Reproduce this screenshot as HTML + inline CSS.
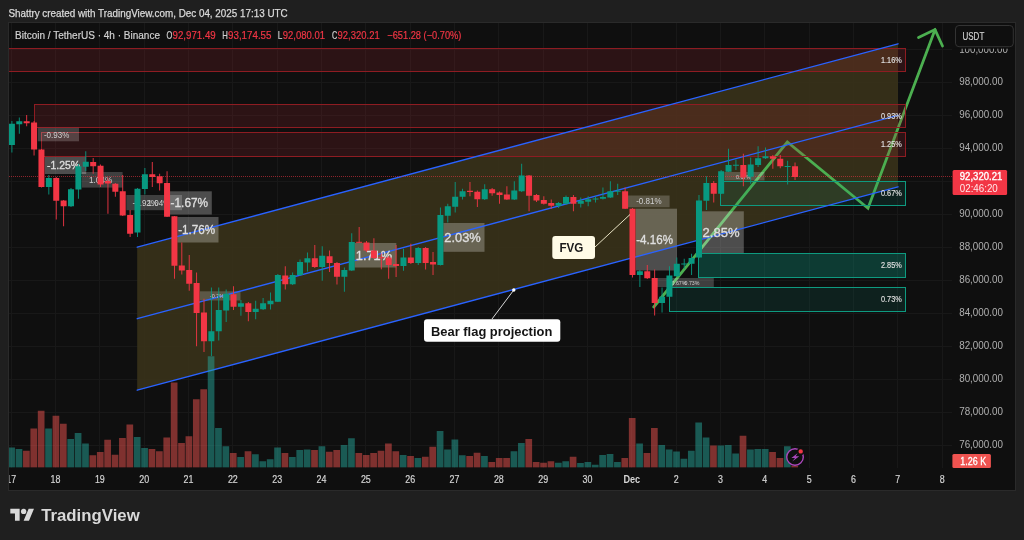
<!DOCTYPE html>
<html lang="en"><head><meta charset="utf-8"><title>BTCUSDT 4h chart</title>
<style>
html,body{margin:0;padding:0;background:#1f1f1f;}
body{width:1024px;height:540px;overflow:hidden;position:relative;font-family:"Liberation Sans",sans-serif;}
svg{position:absolute;left:0;top:0;display:block;will-change:transform;-webkit-font-smoothing:antialiased}
text{font-family:"Liberation Sans",sans-serif;}
</style></head><body>
<svg width="1024" height="540" viewBox="0 0 1024 540">
<rect x="0" y="0" width="1024" height="540" fill="#1f1f1f"/>
<rect x="8.5" y="22.5" width="1007" height="468" fill="#0f0f0f" stroke="#2a2a2a" stroke-width="1"/>

<defs><clipPath id="plot"><rect x="9" y="23" width="943" height="444.5"/></clipPath><clipPath id="pane"><rect x="9" y="23" width="1006" height="467"/></clipPath></defs>
<g stroke="#181818" stroke-width="1" shape-rendering="crispEdges">
<line x1="11.5" y1="23" x2="11.5" y2="467.5"/>
<line x1="55.5" y1="23" x2="55.5" y2="467.5"/>
<line x1="99.5" y1="23" x2="99.5" y2="467.5"/>
<line x1="144.5" y1="23" x2="144.5" y2="467.5"/>
<line x1="188.5" y1="23" x2="188.5" y2="467.5"/>
<line x1="232.5" y1="23" x2="232.5" y2="467.5"/>
<line x1="277.5" y1="23" x2="277.5" y2="467.5"/>
<line x1="321.5" y1="23" x2="321.5" y2="467.5"/>
<line x1="365.5" y1="23" x2="365.5" y2="467.5"/>
<line x1="410.5" y1="23" x2="410.5" y2="467.5"/>
<line x1="454.5" y1="23" x2="454.5" y2="467.5"/>
<line x1="498.5" y1="23" x2="498.5" y2="467.5"/>
<line x1="543.5" y1="23" x2="543.5" y2="467.5"/>
<line x1="587.5" y1="23" x2="587.5" y2="467.5"/>
<line x1="631.5" y1="23" x2="631.5" y2="467.5"/>
<line x1="676.5" y1="23" x2="676.5" y2="467.5"/>
<line x1="720.5" y1="23" x2="720.5" y2="467.5"/>
<line x1="764.5" y1="23" x2="764.5" y2="467.5"/>
<line x1="809.5" y1="23" x2="809.5" y2="467.5"/>
<line x1="853.5" y1="23" x2="853.5" y2="467.5"/>
<line x1="897.5" y1="23" x2="897.5" y2="467.5"/>
<line x1="942.5" y1="23" x2="942.5" y2="467.5"/>
<line x1="9" y1="49.5" x2="952" y2="49.5"/>
<line x1="9" y1="82.5" x2="952" y2="82.5"/>
<line x1="9" y1="115.5" x2="952" y2="115.5"/>
<line x1="9" y1="148.5" x2="952" y2="148.5"/>
<line x1="9" y1="181.5" x2="952" y2="181.5"/>
<line x1="9" y1="214.5" x2="952" y2="214.5"/>
<line x1="9" y1="247.5" x2="952" y2="247.5"/>
<line x1="9" y1="280.5" x2="952" y2="280.5"/>
<line x1="9" y1="313.5" x2="952" y2="313.5"/>
<line x1="9" y1="346.5" x2="952" y2="346.5"/>
<line x1="9" y1="379.5" x2="952" y2="379.5"/>
<line x1="9" y1="412.5" x2="952" y2="412.5"/>
<line x1="9" y1="445.5" x2="952" y2="445.5"/>
</g>
<g clip-path="url(#plot)">
<polygon points="137.2,247.2 898.0,43.8 898.0,186.8 137.2,390.2" fill="rgba(57,50,25,0.9)"/>
<polyline points="653.75,307 787.3,142 868,208.3 935,29.8" fill="none" stroke="#4caf50" stroke-width="2.8" stroke-linejoin="miter" stroke-linecap="round"/>
<polyline points="918.5,37.5 935,29.6 942.5,46" fill="none" stroke="#4caf50" stroke-width="2.8" stroke-linejoin="miter" stroke-linecap="round"/>
<rect x="5.00" y="48.50" width="900.50" height="23.00" fill="rgba(178,40,51,0.18)" stroke="#8e1c22" stroke-width="1"/>
<rect x="34.50" y="104.50" width="871.00" height="23.00" fill="rgba(178,40,51,0.18)" stroke="#8e1c22" stroke-width="1"/>
<rect x="41.50" y="132.50" width="864.00" height="24.00" fill="rgba(178,40,51,0.18)" stroke="#8e1c22" stroke-width="1"/>
<rect x="720.50" y="181.50" width="185.00" height="24.00" fill="rgba(8,153,129,0.13)" stroke="#0e9a80" stroke-width="1"/>
<rect x="698.50" y="253.50" width="207.00" height="24.00" fill="rgba(8,153,129,0.32)" stroke="#0e9a80" stroke-width="1"/>
<rect x="669.50" y="287.50" width="236.00" height="24.00" fill="rgba(8,153,129,0.13)" stroke="#0e9a80" stroke-width="1"/>
<rect x="37.80" y="127.80" width="41.20" height="13.50" fill="rgba(255,255,255,0.2)"/>
<rect x="81.90" y="172.00" width="40.70" height="15.60" fill="rgba(255,255,255,0.2)"/>
<rect x="126.30" y="195.00" width="55.70" height="15.20" fill="rgba(255,255,255,0.2)"/>
<rect x="200.00" y="291.30" width="40.50" height="9.20" fill="rgba(255,255,255,0.2)"/>
<rect x="627.80" y="195.50" width="41.80" height="11.80" fill="rgba(255,255,255,0.2)"/>
<rect x="657.00" y="278.00" width="56.80" height="9.00" fill="rgba(255,255,255,0.2)"/>
<rect x="724.50" y="172.00" width="40.00" height="8.50" fill="rgba(255,255,255,0.2)"/>
<rect x="44.80" y="157.00" width="41.40" height="17.00" fill="rgba(255,255,255,0.26)"/>
<rect x="169.30" y="191.30" width="42.50" height="23.20" fill="rgba(255,255,255,0.26)"/>
<rect x="177.30" y="217.00" width="41.20" height="25.50" fill="rgba(255,255,255,0.26)"/>
<rect x="354.50" y="243.00" width="41.80" height="24.50" fill="rgba(255,255,255,0.26)"/>
<rect x="443.30" y="223.00" width="41.20" height="28.80" fill="rgba(255,255,255,0.26)"/>
<rect x="635.70" y="208.70" width="41.30" height="61.80" fill="rgba(255,255,255,0.26)"/>
<rect x="701.80" y="211.30" width="42.00" height="41.70" fill="rgba(255,255,255,0.26)"/>
<g stroke="#2962ff" stroke-width="1.35" fill="none" stroke-linecap="round">
<line x1="137.2" y1="247.2" x2="898.0" y2="43.8"/>
<line x1="137.2" y1="318.7" x2="898.0" y2="115.3"/>
<line x1="137.2" y1="390.2" x2="898.0" y2="186.8"/>
</g>
<text x="43.90" y="137.70" font-size="8.6" fill="#d0d0d0" textLength="25.40" lengthAdjust="spacingAndGlyphs" >-0.93%</text>
<text x="88.90" y="182.70" font-size="8.7" fill="#d0d0d0" textLength="23.50" lengthAdjust="spacingAndGlyphs" >1.04%</text>
<text x="132.50" y="205.60" font-size="8.3" fill="#d0d0d0" textLength="25.50" lengthAdjust="spacingAndGlyphs" >-0.92%</text>
<text x="147.50" y="205.60" font-size="8.3" fill="#d0d0d0" textLength="23.00" lengthAdjust="spacingAndGlyphs" >1.04%</text>
<text x="210.00" y="298.20" font-size="6.2" fill="#d0d0d0" textLength="14.00" lengthAdjust="spacingAndGlyphs" >-0.7%</text>
<text x="636.20" y="204.40" font-size="8.6" fill="#d0d0d0" textLength="25.40" lengthAdjust="spacingAndGlyphs" >-0.81%</text>
<text x="671.50" y="285.00" font-size="6.2" fill="#d0d0d0" textLength="15.00" lengthAdjust="spacingAndGlyphs" >0.67%</text>
<text x="684.50" y="285.00" font-size="6.2" fill="#d0d0d0" textLength="15.00" lengthAdjust="spacingAndGlyphs" >0.73%</text>
<text x="736.00" y="178.60" font-size="6.2" fill="#d0d0d0" textLength="15.00" lengthAdjust="spacingAndGlyphs" >0.67%</text>
<text x="47.00" y="168.60" font-size="10.8" fill="#dedede" textLength="33.00" lengthAdjust="spacingAndGlyphs" stroke="#dedede" stroke-width="0.35" >-1.25%</text>
<text x="170.60" y="207.30" font-size="12.4" fill="#dedede" textLength="37.50" lengthAdjust="spacingAndGlyphs" stroke="#dedede" stroke-width="0.35" >-1.67%</text>
<text x="178.20" y="234.00" font-size="12.4" fill="#dedede" textLength="37.00" lengthAdjust="spacingAndGlyphs" stroke="#dedede" stroke-width="0.35" >-1.76%</text>
<text x="355.80" y="259.50" font-size="12.4" fill="#dedede" textLength="36.20" lengthAdjust="spacingAndGlyphs" stroke="#dedede" stroke-width="0.35" >1.71%</text>
<text x="444.30" y="241.70" font-size="12.5" fill="#dedede" textLength="36.50" lengthAdjust="spacingAndGlyphs" stroke="#dedede" stroke-width="0.35" >2.03%</text>
<text x="636.20" y="244.40" font-size="12.5" fill="#dedede" textLength="36.80" lengthAdjust="spacingAndGlyphs" stroke="#dedede" stroke-width="0.35" >-4.16%</text>
<text x="702.50" y="236.70" font-size="12.5" fill="#dedede" textLength="37.00" lengthAdjust="spacingAndGlyphs" stroke="#dedede" stroke-width="0.35" >2.85%</text>
<text x="881.00" y="63.00" font-size="8.7" fill="#dcdcdc" textLength="20.80" lengthAdjust="spacingAndGlyphs" stroke="#dcdcdc" stroke-width="0.2" >1.16%</text>
<text x="881.00" y="118.75" font-size="8.7" fill="#dcdcdc" textLength="20.80" lengthAdjust="spacingAndGlyphs" stroke="#dcdcdc" stroke-width="0.2" >0.93%</text>
<text x="881.00" y="147.30" font-size="8.7" fill="#dcdcdc" textLength="20.80" lengthAdjust="spacingAndGlyphs" stroke="#dcdcdc" stroke-width="0.2" >1.25%</text>
<text x="881.00" y="196.30" font-size="8.7" fill="#dcdcdc" textLength="20.80" lengthAdjust="spacingAndGlyphs" stroke="#dcdcdc" stroke-width="0.2" >0.67%</text>
<text x="881.00" y="268.30" font-size="8.7" fill="#dcdcdc" textLength="20.80" lengthAdjust="spacingAndGlyphs" stroke="#dcdcdc" stroke-width="0.2" >2.85%</text>
<text x="881.00" y="302.30" font-size="8.7" fill="#dcdcdc" textLength="20.80" lengthAdjust="spacingAndGlyphs" stroke="#dcdcdc" stroke-width="0.2" >0.73%</text>
<rect x="8.25" y="447.50" width="6.7" height="20.20" fill="rgba(38,166,154,0.5)"/>
<rect x="15.64" y="449.00" width="6.7" height="18.70" fill="rgba(38,166,154,0.5)"/>
<rect x="23.03" y="450.75" width="6.7" height="16.95" fill="rgba(239,83,80,0.5)"/>
<rect x="30.41" y="428.50" width="6.7" height="39.20" fill="rgba(239,83,80,0.5)"/>
<rect x="37.80" y="410.75" width="6.7" height="56.95" fill="rgba(239,83,80,0.5)"/>
<rect x="45.19" y="428.50" width="6.7" height="39.20" fill="rgba(38,166,154,0.5)"/>
<rect x="52.58" y="415.75" width="6.7" height="51.95" fill="rgba(239,83,80,0.5)"/>
<rect x="59.97" y="423.75" width="6.7" height="43.95" fill="rgba(239,83,80,0.5)"/>
<rect x="67.35" y="439.00" width="6.7" height="28.70" fill="rgba(38,166,154,0.5)"/>
<rect x="74.74" y="433.00" width="6.7" height="34.70" fill="rgba(38,166,154,0.5)"/>
<rect x="82.13" y="443.50" width="6.7" height="24.20" fill="rgba(38,166,154,0.5)"/>
<rect x="89.52" y="455.25" width="6.7" height="12.45" fill="rgba(239,83,80,0.5)"/>
<rect x="96.91" y="452.00" width="6.7" height="15.70" fill="rgba(239,83,80,0.5)"/>
<rect x="104.29" y="439.75" width="6.7" height="27.95" fill="rgba(239,83,80,0.5)"/>
<rect x="111.68" y="454.75" width="6.7" height="12.95" fill="rgba(239,83,80,0.5)"/>
<rect x="119.07" y="438.00" width="6.7" height="29.70" fill="rgba(239,83,80,0.5)"/>
<rect x="126.46" y="424.50" width="6.7" height="43.20" fill="rgba(239,83,80,0.5)"/>
<rect x="133.85" y="437.00" width="6.7" height="30.70" fill="rgba(38,166,154,0.5)"/>
<rect x="141.23" y="448.00" width="6.7" height="19.70" fill="rgba(38,166,154,0.5)"/>
<rect x="148.62" y="449.00" width="6.7" height="18.70" fill="rgba(239,83,80,0.5)"/>
<rect x="156.01" y="451.25" width="6.7" height="16.45" fill="rgba(239,83,80,0.5)"/>
<rect x="163.40" y="437.50" width="6.7" height="30.20" fill="rgba(239,83,80,0.5)"/>
<rect x="170.79" y="382.50" width="6.7" height="85.20" fill="rgba(239,83,80,0.5)"/>
<rect x="178.17" y="443.00" width="6.7" height="24.70" fill="rgba(239,83,80,0.5)"/>
<rect x="185.56" y="436.25" width="6.7" height="31.45" fill="rgba(239,83,80,0.5)"/>
<rect x="192.95" y="399.25" width="6.7" height="68.45" fill="rgba(239,83,80,0.5)"/>
<rect x="200.34" y="389.25" width="6.7" height="78.45" fill="rgba(239,83,80,0.5)"/>
<rect x="207.73" y="356.25" width="6.7" height="111.45" fill="rgba(38,166,154,0.5)"/>
<rect x="215.11" y="428.00" width="6.7" height="39.70" fill="rgba(38,166,154,0.5)"/>
<rect x="222.50" y="446.25" width="6.7" height="21.45" fill="rgba(38,166,154,0.5)"/>
<rect x="229.89" y="453.00" width="6.7" height="14.70" fill="rgba(239,83,80,0.5)"/>
<rect x="237.28" y="457.00" width="6.7" height="10.70" fill="rgba(38,166,154,0.5)"/>
<rect x="244.67" y="451.25" width="6.7" height="16.45" fill="rgba(239,83,80,0.5)"/>
<rect x="252.05" y="454.25" width="6.7" height="13.45" fill="rgba(38,166,154,0.5)"/>
<rect x="259.44" y="461.25" width="6.7" height="6.45" fill="rgba(38,166,154,0.5)"/>
<rect x="266.83" y="459.25" width="6.7" height="8.45" fill="rgba(38,166,154,0.5)"/>
<rect x="274.22" y="447.50" width="6.7" height="20.20" fill="rgba(38,166,154,0.5)"/>
<rect x="281.61" y="453.00" width="6.7" height="14.70" fill="rgba(239,83,80,0.5)"/>
<rect x="288.99" y="457.00" width="6.7" height="10.70" fill="rgba(38,166,154,0.5)"/>
<rect x="296.38" y="450.00" width="6.7" height="17.70" fill="rgba(38,166,154,0.5)"/>
<rect x="303.77" y="449.50" width="6.7" height="18.20" fill="rgba(38,166,154,0.5)"/>
<rect x="311.16" y="450.00" width="6.7" height="17.70" fill="rgba(239,83,80,0.5)"/>
<rect x="318.55" y="446.25" width="6.7" height="21.45" fill="rgba(38,166,154,0.5)"/>
<rect x="325.93" y="451.75" width="6.7" height="15.95" fill="rgba(239,83,80,0.5)"/>
<rect x="333.32" y="450.00" width="6.7" height="17.70" fill="rgba(239,83,80,0.5)"/>
<rect x="340.71" y="445.00" width="6.7" height="22.70" fill="rgba(38,166,154,0.5)"/>
<rect x="348.10" y="438.25" width="6.7" height="29.45" fill="rgba(38,166,154,0.5)"/>
<rect x="355.49" y="453.00" width="6.7" height="14.70" fill="rgba(239,83,80,0.5)"/>
<rect x="362.87" y="455.00" width="6.7" height="12.70" fill="rgba(239,83,80,0.5)"/>
<rect x="370.26" y="453.00" width="6.7" height="14.70" fill="rgba(239,83,80,0.5)"/>
<rect x="377.65" y="450.75" width="6.7" height="16.95" fill="rgba(239,83,80,0.5)"/>
<rect x="385.04" y="443.50" width="6.7" height="24.20" fill="rgba(239,83,80,0.5)"/>
<rect x="392.43" y="451.25" width="6.7" height="16.45" fill="rgba(239,83,80,0.5)"/>
<rect x="399.81" y="455.00" width="6.7" height="12.70" fill="rgba(38,166,154,0.5)"/>
<rect x="407.20" y="456.00" width="6.7" height="11.70" fill="rgba(239,83,80,0.5)"/>
<rect x="414.59" y="458.00" width="6.7" height="9.70" fill="rgba(38,166,154,0.5)"/>
<rect x="421.98" y="456.75" width="6.7" height="10.95" fill="rgba(239,83,80,0.5)"/>
<rect x="429.37" y="446.75" width="6.7" height="20.95" fill="rgba(239,83,80,0.5)"/>
<rect x="436.75" y="431.00" width="6.7" height="36.70" fill="rgba(38,166,154,0.5)"/>
<rect x="444.14" y="449.50" width="6.7" height="18.20" fill="rgba(38,166,154,0.5)"/>
<rect x="451.53" y="439.50" width="6.7" height="28.20" fill="rgba(38,166,154,0.5)"/>
<rect x="458.92" y="455.25" width="6.7" height="12.45" fill="rgba(38,166,154,0.5)"/>
<rect x="466.31" y="456.00" width="6.7" height="11.70" fill="rgba(239,83,80,0.5)"/>
<rect x="473.69" y="452.75" width="6.7" height="14.95" fill="rgba(239,83,80,0.5)"/>
<rect x="481.08" y="456.00" width="6.7" height="11.70" fill="rgba(38,166,154,0.5)"/>
<rect x="488.47" y="462.00" width="6.7" height="5.70" fill="rgba(239,83,80,0.5)"/>
<rect x="495.86" y="458.00" width="6.7" height="9.70" fill="rgba(239,83,80,0.5)"/>
<rect x="503.25" y="458.00" width="6.7" height="9.70" fill="rgba(239,83,80,0.5)"/>
<rect x="510.63" y="451.25" width="6.7" height="16.45" fill="rgba(38,166,154,0.5)"/>
<rect x="518.02" y="443.00" width="6.7" height="24.70" fill="rgba(38,166,154,0.5)"/>
<rect x="525.41" y="439.00" width="6.7" height="28.70" fill="rgba(239,83,80,0.5)"/>
<rect x="532.80" y="462.00" width="6.7" height="5.70" fill="rgba(239,83,80,0.5)"/>
<rect x="540.19" y="462.75" width="6.7" height="4.95" fill="rgba(239,83,80,0.5)"/>
<rect x="547.57" y="461.25" width="6.7" height="6.45" fill="rgba(239,83,80,0.5)"/>
<rect x="554.96" y="462.75" width="6.7" height="4.95" fill="rgba(38,166,154,0.5)"/>
<rect x="562.35" y="461.25" width="6.7" height="6.45" fill="rgba(38,166,154,0.5)"/>
<rect x="569.74" y="456.75" width="6.7" height="10.95" fill="rgba(239,83,80,0.5)"/>
<rect x="577.13" y="463.00" width="6.7" height="4.70" fill="rgba(38,166,154,0.5)"/>
<rect x="584.51" y="462.00" width="6.7" height="5.70" fill="rgba(38,166,154,0.5)"/>
<rect x="591.90" y="464.75" width="6.7" height="2.95" fill="rgba(38,166,154,0.5)"/>
<rect x="599.29" y="455.00" width="6.7" height="12.70" fill="rgba(38,166,154,0.5)"/>
<rect x="606.68" y="454.00" width="6.7" height="13.70" fill="rgba(38,166,154,0.5)"/>
<rect x="614.07" y="462.00" width="6.7" height="5.70" fill="rgba(38,166,154,0.5)"/>
<rect x="621.45" y="458.00" width="6.7" height="9.70" fill="rgba(239,83,80,0.5)"/>
<rect x="628.84" y="418.00" width="6.7" height="49.70" fill="rgba(239,83,80,0.5)"/>
<rect x="636.23" y="443.50" width="6.7" height="24.20" fill="rgba(38,166,154,0.5)"/>
<rect x="643.62" y="453.00" width="6.7" height="14.70" fill="rgba(239,83,80,0.5)"/>
<rect x="651.01" y="428.00" width="6.7" height="39.70" fill="rgba(239,83,80,0.5)"/>
<rect x="658.39" y="445.00" width="6.7" height="22.70" fill="rgba(38,166,154,0.5)"/>
<rect x="665.78" y="449.50" width="6.7" height="18.20" fill="rgba(38,166,154,0.5)"/>
<rect x="673.17" y="451.50" width="6.7" height="16.20" fill="rgba(38,166,154,0.5)"/>
<rect x="680.56" y="458.75" width="6.7" height="8.95" fill="rgba(38,166,154,0.5)"/>
<rect x="687.95" y="450.75" width="6.7" height="16.95" fill="rgba(38,166,154,0.5)"/>
<rect x="695.33" y="422.50" width="6.7" height="45.20" fill="rgba(38,166,154,0.5)"/>
<rect x="702.72" y="437.50" width="6.7" height="30.20" fill="rgba(38,166,154,0.5)"/>
<rect x="710.11" y="445.50" width="6.7" height="22.20" fill="rgba(239,83,80,0.5)"/>
<rect x="717.50" y="445.50" width="6.7" height="22.20" fill="rgba(38,166,154,0.5)"/>
<rect x="724.89" y="445.00" width="6.7" height="22.70" fill="rgba(38,166,154,0.5)"/>
<rect x="732.27" y="453.50" width="6.7" height="14.20" fill="rgba(38,166,154,0.5)"/>
<rect x="739.66" y="435.75" width="6.7" height="31.95" fill="rgba(239,83,80,0.5)"/>
<rect x="747.05" y="449.50" width="6.7" height="18.20" fill="rgba(38,166,154,0.5)"/>
<rect x="754.44" y="449.00" width="6.7" height="18.70" fill="rgba(38,166,154,0.5)"/>
<rect x="761.83" y="449.00" width="6.7" height="18.70" fill="rgba(38,166,154,0.5)"/>
<rect x="769.21" y="452.00" width="6.7" height="15.70" fill="rgba(239,83,80,0.5)"/>
<rect x="776.60" y="458.00" width="6.7" height="9.70" fill="rgba(239,83,80,0.5)"/>
<rect x="783.99" y="446.25" width="6.7" height="21.45" fill="rgba(38,166,154,0.5)"/>
<rect x="791.38" y="465.75" width="6.7" height="1.95" fill="rgba(239,83,80,0.5)"/>
</g>
<line x1="9" y1="176.5" x2="952" y2="176.5" stroke="#f23645" stroke-width="1" stroke-dasharray="1 1" opacity="0.55" shape-rendering="crispEdges"/>
<g clip-path="url(#plot)">
<rect x="11.45" y="121.00" width="0.9" height="31.50" fill="#089981"/>
<rect x="8.90" y="123.75" width="6" height="21.25" fill="#089981"/>
<rect x="18.84" y="117.50" width="0.9" height="16.25" fill="#089981"/>
<rect x="16.29" y="121.25" width="6" height="3.00" fill="#089981"/>
<rect x="26.23" y="115.00" width="0.9" height="11.25" fill="#f23645"/>
<rect x="23.68" y="121.25" width="6" height="2.00" fill="#f23645"/>
<rect x="33.61" y="121.00" width="0.9" height="34.50" fill="#f23645"/>
<rect x="31.06" y="122.50" width="6" height="27.00" fill="#f23645"/>
<rect x="41.00" y="149.00" width="0.9" height="38.50" fill="#f23645"/>
<rect x="38.45" y="149.50" width="6" height="37.50" fill="#f23645"/>
<rect x="48.39" y="175.00" width="0.9" height="19.50" fill="#089981"/>
<rect x="45.84" y="178.00" width="6" height="9.00" fill="#089981"/>
<rect x="55.78" y="177.00" width="0.9" height="42.50" fill="#f23645"/>
<rect x="53.23" y="178.00" width="6" height="22.75" fill="#f23645"/>
<rect x="63.17" y="200.00" width="0.9" height="26.25" fill="#f23645"/>
<rect x="60.62" y="200.50" width="6" height="5.75" fill="#f23645"/>
<rect x="70.55" y="188.00" width="0.9" height="19.00" fill="#089981"/>
<rect x="68.00" y="189.25" width="6" height="17.00" fill="#089981"/>
<rect x="77.94" y="163.75" width="0.9" height="35.00" fill="#089981"/>
<rect x="75.39" y="166.25" width="6" height="23.25" fill="#089981"/>
<rect x="85.33" y="151.25" width="0.9" height="19.75" fill="#089981"/>
<rect x="82.78" y="161.75" width="6" height="5.00" fill="#089981"/>
<rect x="92.72" y="158.00" width="0.9" height="15.75" fill="#f23645"/>
<rect x="90.17" y="162.00" width="6" height="4.25" fill="#f23645"/>
<rect x="100.11" y="164.50" width="0.9" height="22.50" fill="#f23645"/>
<rect x="97.56" y="165.75" width="6" height="18.75" fill="#f23645"/>
<rect x="107.49" y="177.50" width="0.9" height="36.25" fill="#f23645"/>
<rect x="104.94" y="181.00" width="6" height="2.50" fill="#f23645"/>
<rect x="114.88" y="183.00" width="0.9" height="13.75" fill="#f23645"/>
<rect x="112.33" y="183.75" width="6" height="8.00" fill="#f23645"/>
<rect x="122.27" y="175.00" width="0.9" height="41.00" fill="#f23645"/>
<rect x="119.72" y="191.25" width="6" height="24.25" fill="#f23645"/>
<rect x="129.66" y="210.00" width="0.9" height="27.00" fill="#f23645"/>
<rect x="127.11" y="215.00" width="6" height="18.75" fill="#f23645"/>
<rect x="137.05" y="188.00" width="0.9" height="49.00" fill="#089981"/>
<rect x="134.50" y="188.75" width="6" height="43.75" fill="#089981"/>
<rect x="144.43" y="168.00" width="0.9" height="26.50" fill="#089981"/>
<rect x="141.88" y="174.25" width="6" height="14.75" fill="#089981"/>
<rect x="151.82" y="162.00" width="0.9" height="25.00" fill="#f23645"/>
<rect x="149.27" y="174.25" width="6" height="2.75" fill="#f23645"/>
<rect x="159.21" y="173.75" width="0.9" height="16.75" fill="#f23645"/>
<rect x="156.66" y="176.25" width="6" height="7.00" fill="#f23645"/>
<rect x="166.60" y="171.25" width="0.9" height="45.75" fill="#f23645"/>
<rect x="164.05" y="183.00" width="6" height="33.75" fill="#f23645"/>
<rect x="173.99" y="216.00" width="0.9" height="62.75" fill="#f23645"/>
<rect x="171.44" y="216.25" width="6" height="49.50" fill="#f23645"/>
<rect x="181.37" y="242.50" width="0.9" height="32.00" fill="#f23645"/>
<rect x="178.82" y="265.50" width="6" height="5.00" fill="#f23645"/>
<rect x="188.76" y="255.00" width="0.9" height="35.75" fill="#f23645"/>
<rect x="186.21" y="270.00" width="6" height="13.75" fill="#f23645"/>
<rect x="196.15" y="272.50" width="0.9" height="73.75" fill="#f23645"/>
<rect x="193.60" y="283.00" width="6" height="30.00" fill="#f23645"/>
<rect x="203.54" y="298.75" width="0.9" height="53.25" fill="#f23645"/>
<rect x="200.99" y="312.50" width="6" height="28.75" fill="#f23645"/>
<rect x="210.93" y="287.50" width="0.9" height="68.50" fill="#089981"/>
<rect x="208.38" y="331.25" width="6" height="10.00" fill="#089981"/>
<rect x="218.31" y="287.50" width="0.9" height="53.00" fill="#089981"/>
<rect x="215.76" y="310.00" width="6" height="21.25" fill="#089981"/>
<rect x="225.70" y="289.50" width="0.9" height="32.50" fill="#089981"/>
<rect x="223.15" y="293.75" width="6" height="16.75" fill="#089981"/>
<rect x="233.09" y="286.25" width="0.9" height="23.75" fill="#f23645"/>
<rect x="230.54" y="294.25" width="6" height="12.50" fill="#f23645"/>
<rect x="240.48" y="300.00" width="0.9" height="15.75" fill="#089981"/>
<rect x="237.93" y="303.25" width="6" height="3.50" fill="#089981"/>
<rect x="247.87" y="302.00" width="0.9" height="19.25" fill="#f23645"/>
<rect x="245.32" y="303.25" width="6" height="8.75" fill="#f23645"/>
<rect x="255.25" y="300.75" width="0.9" height="18.50" fill="#089981"/>
<rect x="252.70" y="308.75" width="6" height="3.25" fill="#089981"/>
<rect x="262.64" y="298.00" width="0.9" height="12.00" fill="#089981"/>
<rect x="260.09" y="303.25" width="6" height="6.00" fill="#089981"/>
<rect x="270.03" y="292.50" width="0.9" height="17.00" fill="#089981"/>
<rect x="267.48" y="300.75" width="6" height="3.50" fill="#089981"/>
<rect x="277.42" y="274.00" width="0.9" height="28.00" fill="#089981"/>
<rect x="274.87" y="275.00" width="6" height="26.75" fill="#089981"/>
<rect x="284.81" y="266.25" width="0.9" height="23.25" fill="#f23645"/>
<rect x="282.26" y="275.50" width="6" height="8.75" fill="#f23645"/>
<rect x="292.19" y="272.50" width="0.9" height="12.50" fill="#089981"/>
<rect x="289.64" y="275.00" width="6" height="9.25" fill="#089981"/>
<rect x="299.58" y="259.50" width="0.9" height="16.50" fill="#089981"/>
<rect x="297.03" y="262.00" width="6" height="13.00" fill="#089981"/>
<rect x="306.97" y="252.50" width="0.9" height="19.00" fill="#089981"/>
<rect x="304.42" y="258.25" width="6" height="4.25" fill="#089981"/>
<rect x="314.36" y="245.00" width="0.9" height="23.00" fill="#f23645"/>
<rect x="311.81" y="258.25" width="6" height="8.75" fill="#f23645"/>
<rect x="321.75" y="246.25" width="0.9" height="34.50" fill="#089981"/>
<rect x="319.20" y="255.75" width="6" height="11.25" fill="#089981"/>
<rect x="329.13" y="250.50" width="0.9" height="21.50" fill="#f23645"/>
<rect x="326.58" y="256.25" width="6" height="6.75" fill="#f23645"/>
<rect x="336.52" y="262.00" width="0.9" height="22.50" fill="#f23645"/>
<rect x="333.97" y="263.00" width="6" height="13.75" fill="#f23645"/>
<rect x="343.91" y="267.50" width="0.9" height="24.25" fill="#089981"/>
<rect x="341.36" y="270.00" width="6" height="6.75" fill="#089981"/>
<rect x="351.30" y="233.25" width="0.9" height="37.75" fill="#089981"/>
<rect x="348.75" y="242.00" width="6" height="28.50" fill="#089981"/>
<rect x="358.69" y="227.00" width="0.9" height="15.80" fill="#f23645"/>
<rect x="356.14" y="241.80" width="6" height="1.00" fill="#f23645"/>
<rect x="366.07" y="241.00" width="0.9" height="11.00" fill="#f23645"/>
<rect x="363.52" y="242.50" width="6" height="8.00" fill="#f23645"/>
<rect x="373.46" y="238.25" width="0.9" height="20.75" fill="#f23645"/>
<rect x="370.91" y="250.50" width="6" height="7.50" fill="#f23645"/>
<rect x="380.85" y="253.30" width="0.9" height="16.00" fill="#f23645"/>
<rect x="378.30" y="257.20" width="6" height="1.00" fill="#f23645"/>
<rect x="388.24" y="256.00" width="0.9" height="22.75" fill="#f23645"/>
<rect x="385.69" y="257.50" width="6" height="7.50" fill="#f23645"/>
<rect x="395.63" y="245.00" width="0.9" height="32.00" fill="#f23645"/>
<rect x="393.08" y="264.00" width="6" height="2.00" fill="#f23645"/>
<rect x="403.01" y="248.75" width="0.9" height="22.00" fill="#089981"/>
<rect x="400.46" y="257.50" width="6" height="8.50" fill="#089981"/>
<rect x="410.40" y="243.75" width="0.9" height="20.25" fill="#f23645"/>
<rect x="407.85" y="257.50" width="6" height="5.50" fill="#f23645"/>
<rect x="417.79" y="247.00" width="0.9" height="18.00" fill="#089981"/>
<rect x="415.24" y="248.00" width="6" height="15.00" fill="#089981"/>
<rect x="425.18" y="247.00" width="0.9" height="22.50" fill="#f23645"/>
<rect x="422.63" y="248.00" width="6" height="15.00" fill="#f23645"/>
<rect x="432.57" y="252.00" width="0.9" height="23.00" fill="#f23645"/>
<rect x="430.02" y="262.00" width="6" height="2.50" fill="#f23645"/>
<rect x="439.95" y="207.50" width="0.9" height="58.00" fill="#089981"/>
<rect x="437.40" y="215.00" width="6" height="50.00" fill="#089981"/>
<rect x="447.34" y="203.75" width="0.9" height="18.75" fill="#089981"/>
<rect x="444.79" y="206.25" width="6" height="9.50" fill="#089981"/>
<rect x="454.73" y="182.00" width="0.9" height="30.50" fill="#089981"/>
<rect x="452.18" y="196.75" width="6" height="10.00" fill="#089981"/>
<rect x="462.12" y="188.75" width="0.9" height="10.75" fill="#089981"/>
<rect x="459.57" y="191.25" width="6" height="5.50" fill="#089981"/>
<rect x="469.51" y="182.00" width="0.9" height="14.25" fill="#f23645"/>
<rect x="466.96" y="190.75" width="6" height="1.25" fill="#f23645"/>
<rect x="476.89" y="190.50" width="0.9" height="16.50" fill="#f23645"/>
<rect x="474.34" y="191.75" width="6" height="7.50" fill="#f23645"/>
<rect x="484.28" y="184.25" width="0.9" height="15.75" fill="#089981"/>
<rect x="481.73" y="189.25" width="6" height="10.00" fill="#089981"/>
<rect x="491.67" y="188.00" width="0.9" height="7.75" fill="#f23645"/>
<rect x="489.12" y="189.25" width="6" height="4.00" fill="#f23645"/>
<rect x="499.06" y="191.50" width="0.9" height="12.25" fill="#f23645"/>
<rect x="496.51" y="192.50" width="6" height="2.50" fill="#f23645"/>
<rect x="506.45" y="186.25" width="0.9" height="13.75" fill="#f23645"/>
<rect x="503.90" y="194.50" width="6" height="5.00" fill="#f23645"/>
<rect x="513.83" y="181.25" width="0.9" height="18.75" fill="#089981"/>
<rect x="511.28" y="190.50" width="6" height="9.00" fill="#089981"/>
<rect x="521.22" y="163.75" width="0.9" height="28.25" fill="#089981"/>
<rect x="518.67" y="175.50" width="6" height="15.75" fill="#089981"/>
<rect x="528.61" y="175.00" width="0.9" height="36.25" fill="#f23645"/>
<rect x="526.06" y="175.50" width="6" height="20.25" fill="#f23645"/>
<rect x="536.00" y="194.00" width="0.9" height="8.00" fill="#f23645"/>
<rect x="533.45" y="195.00" width="6" height="5.50" fill="#f23645"/>
<rect x="543.39" y="196.25" width="0.9" height="8.25" fill="#f23645"/>
<rect x="540.84" y="200.00" width="6" height="3.75" fill="#f23645"/>
<rect x="550.77" y="199.50" width="0.9" height="9.25" fill="#f23645"/>
<rect x="548.22" y="203.00" width="6" height="2.75" fill="#f23645"/>
<rect x="558.16" y="202.00" width="0.9" height="6.00" fill="#089981"/>
<rect x="555.61" y="203.00" width="6" height="2.75" fill="#089981"/>
<rect x="565.55" y="195.50" width="0.9" height="9.00" fill="#089981"/>
<rect x="563.00" y="197.00" width="6" height="6.75" fill="#089981"/>
<rect x="572.94" y="195.00" width="0.9" height="16.25" fill="#f23645"/>
<rect x="570.39" y="197.00" width="6" height="6.75" fill="#f23645"/>
<rect x="580.33" y="197.50" width="0.9" height="10.00" fill="#089981"/>
<rect x="577.78" y="200.75" width="6" height="3.00" fill="#089981"/>
<rect x="587.71" y="196.25" width="0.9" height="10.00" fill="#089981"/>
<rect x="585.16" y="199.25" width="6" height="2.50" fill="#089981"/>
<rect x="595.10" y="196.25" width="0.9" height="6.25" fill="#089981"/>
<rect x="592.55" y="198.50" width="6" height="1.00" fill="#089981"/>
<rect x="602.49" y="187.50" width="0.9" height="12.00" fill="#089981"/>
<rect x="599.94" y="197.00" width="6" height="1.75" fill="#089981"/>
<rect x="609.88" y="181.25" width="0.9" height="16.75" fill="#089981"/>
<rect x="607.33" y="191.25" width="6" height="6.25" fill="#089981"/>
<rect x="617.27" y="183.75" width="0.9" height="11.25" fill="#089981"/>
<rect x="614.72" y="190.75" width="6" height="1.00" fill="#089981"/>
<rect x="624.65" y="187.50" width="0.9" height="21.50" fill="#f23645"/>
<rect x="622.10" y="191.25" width="6" height="17.50" fill="#f23645"/>
<rect x="632.04" y="208.00" width="0.9" height="69.50" fill="#f23645"/>
<rect x="629.49" y="208.75" width="6" height="66.25" fill="#f23645"/>
<rect x="639.43" y="270.00" width="0.9" height="17.00" fill="#089981"/>
<rect x="636.88" y="271.25" width="6" height="3.75" fill="#089981"/>
<rect x="646.82" y="265.00" width="0.9" height="14.00" fill="#f23645"/>
<rect x="644.27" y="271.25" width="6" height="7.00" fill="#f23645"/>
<rect x="654.21" y="269.50" width="0.9" height="46.00" fill="#f23645"/>
<rect x="651.66" y="278.00" width="6" height="25.00" fill="#f23645"/>
<rect x="661.59" y="287.50" width="0.9" height="25.00" fill="#089981"/>
<rect x="659.04" y="296.75" width="6" height="6.25" fill="#089981"/>
<rect x="668.98" y="266.25" width="0.9" height="30.75" fill="#089981"/>
<rect x="666.43" y="275.50" width="6" height="21.25" fill="#089981"/>
<rect x="676.37" y="257.50" width="0.9" height="19.50" fill="#089981"/>
<rect x="673.82" y="263.75" width="6" height="12.50" fill="#089981"/>
<rect x="683.76" y="258.75" width="0.9" height="10.00" fill="#089981"/>
<rect x="681.21" y="263.50" width="6" height="1.00" fill="#089981"/>
<rect x="691.15" y="253.75" width="0.9" height="21.25" fill="#089981"/>
<rect x="688.60" y="258.00" width="6" height="5.75" fill="#089981"/>
<rect x="698.53" y="195.00" width="0.9" height="63.00" fill="#089981"/>
<rect x="695.98" y="200.50" width="6" height="57.00" fill="#089981"/>
<rect x="705.92" y="176.25" width="0.9" height="33.75" fill="#089981"/>
<rect x="703.37" y="183.00" width="6" height="17.75" fill="#089981"/>
<rect x="713.31" y="181.00" width="0.9" height="21.50" fill="#f23645"/>
<rect x="710.76" y="183.00" width="6" height="10.75" fill="#f23645"/>
<rect x="720.70" y="170.00" width="0.9" height="24.00" fill="#089981"/>
<rect x="718.15" y="171.25" width="6" height="22.50" fill="#089981"/>
<rect x="728.09" y="148.75" width="0.9" height="23.25" fill="#089981"/>
<rect x="725.54" y="165.00" width="6" height="6.75" fill="#089981"/>
<rect x="735.47" y="159.50" width="0.9" height="10.50" fill="#089981"/>
<rect x="732.92" y="164.75" width="6" height="1.00" fill="#089981"/>
<rect x="742.86" y="153.75" width="0.9" height="32.50" fill="#f23645"/>
<rect x="740.31" y="165.00" width="6" height="12.50" fill="#f23645"/>
<rect x="750.25" y="157.50" width="0.9" height="26.25" fill="#089981"/>
<rect x="747.70" y="164.50" width="6" height="12.25" fill="#089981"/>
<rect x="757.64" y="146.25" width="0.9" height="20.75" fill="#089981"/>
<rect x="755.09" y="158.25" width="6" height="6.75" fill="#089981"/>
<rect x="765.03" y="147.50" width="0.9" height="11.50" fill="#089981"/>
<rect x="762.48" y="156.25" width="6" height="2.00" fill="#089981"/>
<rect x="772.41" y="155.00" width="0.9" height="13.75" fill="#f23645"/>
<rect x="769.86" y="156.25" width="6" height="2.50" fill="#f23645"/>
<rect x="779.80" y="155.00" width="0.9" height="13.25" fill="#f23645"/>
<rect x="777.25" y="158.75" width="6" height="7.50" fill="#f23645"/>
<rect x="787.19" y="160.75" width="0.9" height="23.75" fill="#089981"/>
<rect x="784.64" y="166.00" width="6" height="1.00" fill="#089981"/>
<rect x="794.58" y="162.50" width="0.9" height="17.50" fill="#f23645"/>
<rect x="792.03" y="166.25" width="6" height="10.75" fill="#f23645"/>
<line x1="595" y1="247" x2="630" y2="214.5" stroke="#e8e2c4" stroke-width="1"/>
<rect x="552.3" y="236" width="42.7" height="23" rx="3" fill="#fffbe6"/>
<text x="559.50" y="252.00" font-size="12.5" fill="#1a1a1a" font-weight="bold" textLength="23.90" lengthAdjust="spacingAndGlyphs" >FVG</text>
<line x1="513.8" y1="290" x2="492" y2="319" stroke="#d8d8d8" stroke-width="1"/>
<circle cx="513.8" cy="290" r="1.7" fill="#ffffff"/>
<rect x="424" y="319.2" width="136.3" height="22.6" rx="3" fill="#ffffff"/>
<text x="431.00" y="335.60" font-size="13.3" fill="#141414" font-weight="bold" textLength="121.30" lengthAdjust="spacingAndGlyphs" >Bear flag projection</text>
<circle cx="795" cy="457" r="8.3" fill="#0f0f0f" stroke="#ab47bc" stroke-width="1.4"/>
<path d="M797.8 453.1 L791.4 457.9 L795 457.9 L792.2 461.6 L799.3 456.3 L795.6 456.3 Z" fill="#ab47bc"/>
<circle cx="800.7" cy="451.4" r="2.9" fill="#f23645" stroke="#0f0f0f" stroke-width="1.4"/>
</g>
<text x="15.00" y="39.00" font-size="10.9" fill="#d1d1d1" textLength="145.00" lengthAdjust="spacingAndGlyphs" stroke="#d1d1d1" stroke-width="0.2" >Bitcoin / TetherUS · 4h · Binance</text>
<text x="166.50" y="39.00" font-size="10.9" fill="#d1d1d1" textLength="5.80" lengthAdjust="spacingAndGlyphs" stroke="#d1d1d1" stroke-width="0.2" >O</text>
<text x="172.50" y="39.00" font-size="10.9" fill="#f23645" textLength="43.20" lengthAdjust="spacingAndGlyphs" stroke="#f23645" stroke-width="0.2" >92,971.49</text>
<text x="222.30" y="39.00" font-size="10.9" fill="#d1d1d1" textLength="5.60" lengthAdjust="spacingAndGlyphs" stroke="#d1d1d1" stroke-width="0.2" >H</text>
<text x="228.00" y="39.00" font-size="10.9" fill="#f23645" textLength="43.50" lengthAdjust="spacingAndGlyphs" stroke="#f23645" stroke-width="0.2" >93,174.55</text>
<text x="277.80" y="39.00" font-size="10.9" fill="#d1d1d1" textLength="4.60" lengthAdjust="spacingAndGlyphs" stroke="#d1d1d1" stroke-width="0.2" >L</text>
<text x="282.80" y="39.00" font-size="10.9" fill="#f23645" textLength="42.20" lengthAdjust="spacingAndGlyphs" stroke="#f23645" stroke-width="0.2" >92,080.01</text>
<text x="332.00" y="39.00" font-size="10.9" fill="#d1d1d1" textLength="5.30" lengthAdjust="spacingAndGlyphs" stroke="#d1d1d1" stroke-width="0.2" >C</text>
<text x="337.60" y="39.00" font-size="10.9" fill="#f23645" textLength="42.10" lengthAdjust="spacingAndGlyphs" stroke="#f23645" stroke-width="0.2" >92,320.21</text>
<text x="387.30" y="39.00" font-size="10.9" fill="#f23645" textLength="74.10" lengthAdjust="spacingAndGlyphs" stroke="#f23645" stroke-width="0.2" >−651.28 (−0.70%)</text>
<text x="8.40" y="16.90" font-size="10.9" fill="#dadada" textLength="279.30" lengthAdjust="spacingAndGlyphs" stroke="#dadada" stroke-width="0.25" >Shattry created with TradingView.com, Dec 04, 2025 17:13 UTC</text>
<g clip-path="url(#pane)">
<text x="11.20" y="483.30" font-size="10.5" fill="#d4d4d4" text-anchor="middle" textLength="9.90" lengthAdjust="spacingAndGlyphs" stroke="#d4d4d4" stroke-width="0.2" >17</text>
<text x="55.53" y="483.30" font-size="10.5" fill="#d4d4d4" text-anchor="middle" textLength="9.90" lengthAdjust="spacingAndGlyphs" stroke="#d4d4d4" stroke-width="0.2" >18</text>
<text x="99.86" y="483.30" font-size="10.5" fill="#d4d4d4" text-anchor="middle" textLength="9.90" lengthAdjust="spacingAndGlyphs" stroke="#d4d4d4" stroke-width="0.2" >19</text>
<text x="144.19" y="483.30" font-size="10.5" fill="#d4d4d4" text-anchor="middle" textLength="9.90" lengthAdjust="spacingAndGlyphs" stroke="#d4d4d4" stroke-width="0.2" >20</text>
<text x="188.52" y="483.30" font-size="10.5" fill="#d4d4d4" text-anchor="middle" textLength="9.90" lengthAdjust="spacingAndGlyphs" stroke="#d4d4d4" stroke-width="0.2" >21</text>
<text x="232.85" y="483.30" font-size="10.5" fill="#d4d4d4" text-anchor="middle" textLength="9.90" lengthAdjust="spacingAndGlyphs" stroke="#d4d4d4" stroke-width="0.2" >22</text>
<text x="277.18" y="483.30" font-size="10.5" fill="#d4d4d4" text-anchor="middle" textLength="9.90" lengthAdjust="spacingAndGlyphs" stroke="#d4d4d4" stroke-width="0.2" >23</text>
<text x="321.51" y="483.30" font-size="10.5" fill="#d4d4d4" text-anchor="middle" textLength="9.90" lengthAdjust="spacingAndGlyphs" stroke="#d4d4d4" stroke-width="0.2" >24</text>
<text x="365.84" y="483.30" font-size="10.5" fill="#d4d4d4" text-anchor="middle" textLength="9.90" lengthAdjust="spacingAndGlyphs" stroke="#d4d4d4" stroke-width="0.2" >25</text>
<text x="410.17" y="483.30" font-size="10.5" fill="#d4d4d4" text-anchor="middle" textLength="9.90" lengthAdjust="spacingAndGlyphs" stroke="#d4d4d4" stroke-width="0.2" >26</text>
<text x="454.50" y="483.30" font-size="10.5" fill="#d4d4d4" text-anchor="middle" textLength="9.90" lengthAdjust="spacingAndGlyphs" stroke="#d4d4d4" stroke-width="0.2" >27</text>
<text x="498.83" y="483.30" font-size="10.5" fill="#d4d4d4" text-anchor="middle" textLength="9.90" lengthAdjust="spacingAndGlyphs" stroke="#d4d4d4" stroke-width="0.2" >28</text>
<text x="543.16" y="483.30" font-size="10.5" fill="#d4d4d4" text-anchor="middle" textLength="9.90" lengthAdjust="spacingAndGlyphs" stroke="#d4d4d4" stroke-width="0.2" >29</text>
<text x="587.49" y="483.30" font-size="10.5" fill="#d4d4d4" text-anchor="middle" textLength="9.90" lengthAdjust="spacingAndGlyphs" stroke="#d4d4d4" stroke-width="0.2" >30</text>
<text x="631.82" y="483.30" font-size="10.5" fill="#d4d4d4" font-weight="bold" text-anchor="middle" textLength="16.80" lengthAdjust="spacingAndGlyphs" >Dec</text>
<text x="676.15" y="483.30" font-size="10.5" fill="#d4d4d4" text-anchor="middle" textLength="4.95" lengthAdjust="spacingAndGlyphs" stroke="#d4d4d4" stroke-width="0.2" >2</text>
<text x="720.48" y="483.30" font-size="10.5" fill="#d4d4d4" text-anchor="middle" textLength="4.95" lengthAdjust="spacingAndGlyphs" stroke="#d4d4d4" stroke-width="0.2" >3</text>
<text x="764.81" y="483.30" font-size="10.5" fill="#d4d4d4" text-anchor="middle" textLength="4.95" lengthAdjust="spacingAndGlyphs" stroke="#d4d4d4" stroke-width="0.2" >4</text>
<text x="809.14" y="483.30" font-size="10.5" fill="#d4d4d4" text-anchor="middle" textLength="4.95" lengthAdjust="spacingAndGlyphs" stroke="#d4d4d4" stroke-width="0.2" >5</text>
<text x="853.47" y="483.30" font-size="10.5" fill="#d4d4d4" text-anchor="middle" textLength="4.95" lengthAdjust="spacingAndGlyphs" stroke="#d4d4d4" stroke-width="0.2" >6</text>
<text x="897.80" y="483.30" font-size="10.5" fill="#d4d4d4" text-anchor="middle" textLength="4.95" lengthAdjust="spacingAndGlyphs" stroke="#d4d4d4" stroke-width="0.2" >7</text>
<text x="942.13" y="483.30" font-size="10.5" fill="#d4d4d4" text-anchor="middle" textLength="4.95" lengthAdjust="spacingAndGlyphs" stroke="#d4d4d4" stroke-width="0.2" >8</text>
</g>
<g clip-path="url(#pane)">
<text x="959.20" y="53.40" font-size="10.4" fill="#b0b0b0" textLength="48.70" lengthAdjust="spacingAndGlyphs" >100,000.00</text>
<text x="959.20" y="84.90" font-size="10.4" fill="#b0b0b0" textLength="43.75" lengthAdjust="spacingAndGlyphs" >98,000.00</text>
<text x="959.20" y="117.90" font-size="10.4" fill="#b0b0b0" textLength="43.75" lengthAdjust="spacingAndGlyphs" >96,000.00</text>
<text x="959.20" y="150.90" font-size="10.4" fill="#b0b0b0" textLength="43.75" lengthAdjust="spacingAndGlyphs" >94,000.00</text>
<text x="959.20" y="216.90" font-size="10.4" fill="#b0b0b0" textLength="43.75" lengthAdjust="spacingAndGlyphs" >90,000.00</text>
<text x="959.20" y="249.90" font-size="10.4" fill="#b0b0b0" textLength="43.75" lengthAdjust="spacingAndGlyphs" >88,000.00</text>
<text x="959.20" y="282.90" font-size="10.4" fill="#b0b0b0" textLength="43.75" lengthAdjust="spacingAndGlyphs" >86,000.00</text>
<text x="959.20" y="315.90" font-size="10.4" fill="#b0b0b0" textLength="43.75" lengthAdjust="spacingAndGlyphs" >84,000.00</text>
<text x="959.20" y="348.90" font-size="10.4" fill="#b0b0b0" textLength="43.75" lengthAdjust="spacingAndGlyphs" >82,000.00</text>
<text x="959.20" y="381.90" font-size="10.4" fill="#b0b0b0" textLength="43.75" lengthAdjust="spacingAndGlyphs" >80,000.00</text>
<text x="959.20" y="414.90" font-size="10.4" fill="#b0b0b0" textLength="43.75" lengthAdjust="spacingAndGlyphs" >78,000.00</text>
<text x="959.20" y="447.90" font-size="10.4" fill="#b0b0b0" textLength="43.75" lengthAdjust="spacingAndGlyphs" >76,000.00</text>
</g>
<rect x="953" y="24" width="62" height="24.7" fill="#0f0f0f"/>
<rect x="955.5" y="25.5" width="57.8" height="21.2" rx="3.5" fill="#0f0f0f" stroke="#333333" stroke-width="1"/>
<text x="962.50" y="39.70" font-size="10.2" fill="#d4d4d4" textLength="21.80" lengthAdjust="spacingAndGlyphs" stroke="#d4d4d4" stroke-width="0.15" >USDT</text>
<rect x="952.6" y="170" width="54.5" height="25" rx="1.5" fill="#f23645"/>
<text x="959.80" y="179.70" font-size="10.3" fill="#ffffff" textLength="42.50" lengthAdjust="spacingAndGlyphs" stroke="#ffffff" stroke-width="0.35" >92,320.21</text>
<text x="959.80" y="191.50" font-size="10.3" fill="#ffe9ea" textLength="38.00" lengthAdjust="spacingAndGlyphs" >02:46:20</text>
<rect x="952.4" y="454.1" width="38.5" height="13.9" rx="1.5" fill="#ef5350"/>
<text x="960.30" y="464.80" font-size="10.2" fill="#ffffff" textLength="25.80" lengthAdjust="spacingAndGlyphs" stroke="#ffffff" stroke-width="0.3" >1.26 K</text>
<g transform="translate(10.3,506.1) scale(0.667)" fill="#d9d9d9"><path d="M14 22H7V11H0V4h14v18zM28 22h-8l7.5-18h8L28 22z"/><circle cx="20" cy="8" r="4"/></g>
<text x="41.20" y="520.60" font-size="17" fill="#d9d9d9" font-weight="bold" textLength="98.50" lengthAdjust="spacingAndGlyphs" >TradingView</text>
</svg></body></html>
